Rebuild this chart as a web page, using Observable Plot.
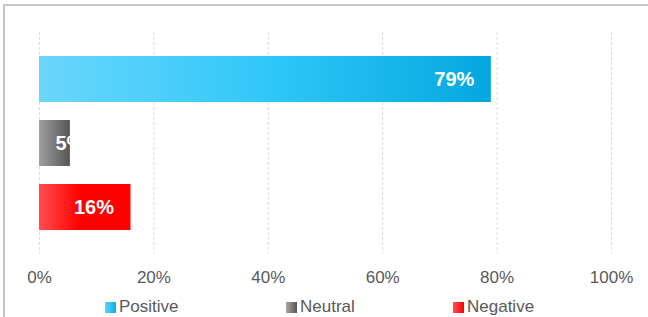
<!DOCTYPE html>
<html>
<head>
<meta charset="utf-8">
<script src="https://cdn.jsdelivr.net/npm/d3@7"></script>
<script src="https://cdn.jsdelivr.net/npm/@observablehq/plot@0.6"></script>
<style>
  html, body { margin: 0; padding: 0; background: #fff; }
  #wrap { position: relative; width: 648px; height: 317px; overflow: hidden; font-family: "Liberation Sans", Arial, sans-serif; }
  #frame { position: absolute; left: 3px; top: 4px; width: 700px; height: 400px; border-top: 2px solid #c8c8c8; border-left: 2px solid #c4c4c4; box-sizing: border-box; }
  #chart { position: absolute; left: 0; top: 0; }
  .leg { position: absolute; top: 298px; display: flex; align-items: center; font-size: 17px; color: #595959; line-height: 18px; }
  .sw { width: 11px; height: 11px; margin-right: 3px; }
</style>
</head>
<body>
<div id="wrap">
  <div id="frame"></div>
  <div id="chart"></div>
  <div class="leg" style="left:105px"><span class="sw" style="background:linear-gradient(90deg,#5fd2fb,#0aaee6)"></span>Positive</div>
  <div class="leg" style="left:286px"><span class="sw" style="background:linear-gradient(90deg,#a8a8a8,#555)"></span>Neutral</div>
  <div class="leg" style="left:453px"><span class="sw" style="background:linear-gradient(90deg,#ff5050,#ff0000)"></span>Negative</div>
</div>
<script>
const categories = ["Positive", "Neutral", "Negative"];
const values = [0.79, 0.054, 0.16];
const labels = ["79%", "5%", "16%"];
const xTicks = [0, 0.2, 0.4, 0.6, 0.8, 1.0];

const data = categories.map((c, i) => ({cat: c, value: values[i], label: labels[i]}));
const gradId = {Positive: "url(#gPos)", Neutral: "url(#gNeu)", Negative: "url(#gNeg)"};

const chart = Plot.plot({
  width: 648,
  height: 290,
  marginLeft: 39,
  marginRight: 37,
  marginTop: 32,
  marginBottom: 37,
  style: {fontFamily: "'Liberation Sans', Arial, sans-serif", color: "#595959", background: "transparent"},
  x: {domain: [0, 1], label: null},
  y: {domain: categories, range: [45.75, 239.75], paddingInner: 0.288, paddingOuter: 0.144, axis: null, label: null},
  color: {type: "identity"},
  marks: [
    Plot.gridX(xTicks, {stroke: "#dcdcdc", strokeOpacity: 1, strokeDasharray: "3,2"}),
    Plot.axisX(xTicks, {tickSize: 0, tickPadding: 17, tickFormat: d3.format(".0%"), fontSize: 17, label: null}),
    Plot.barX(data, {x: "value", y: "cat", fill: d => gradId[d.cat]}),
    Plot.text(data.filter(d => d.value >= 0.1), {x: "value", y: "cat", text: "label", textAnchor: "end", dx: -17, fill: "white", fontWeight: "bold", fontSize: 20}),
    Plot.text(data.filter(d => d.value < 0.1), {x: "value", y: "cat", text: "label", textAnchor: "start", dx: -15, fill: "white", fontWeight: "bold", fontSize: 20})
  ]
});

const svg = d3.select(chart);
const defs = svg.insert("defs", ":first-child");
function grad(id, stops) {
  const g = defs.append("linearGradient").attr("id", id).attr("x1", 0).attr("x2", 1).attr("y1", 0).attr("y2", 0);
  stops.forEach(([o, c]) => g.append("stop").attr("offset", o).attr("stop-color", c));
}
grad("gPos", [[0, "#6ad6fc"], [0.5, "#31c8f8"], [1, "#03a8e0"]]);
grad("gNeu", [[0, "#a0a0a0"], [1, "#555555"]]);
grad("gNeg", [[0, "#ff4d4d"], [0.45, "#ff0000"], [1, "#ff0000"]]);

document.getElementById("chart").appendChild(chart);
</script>
</body>
</html>
